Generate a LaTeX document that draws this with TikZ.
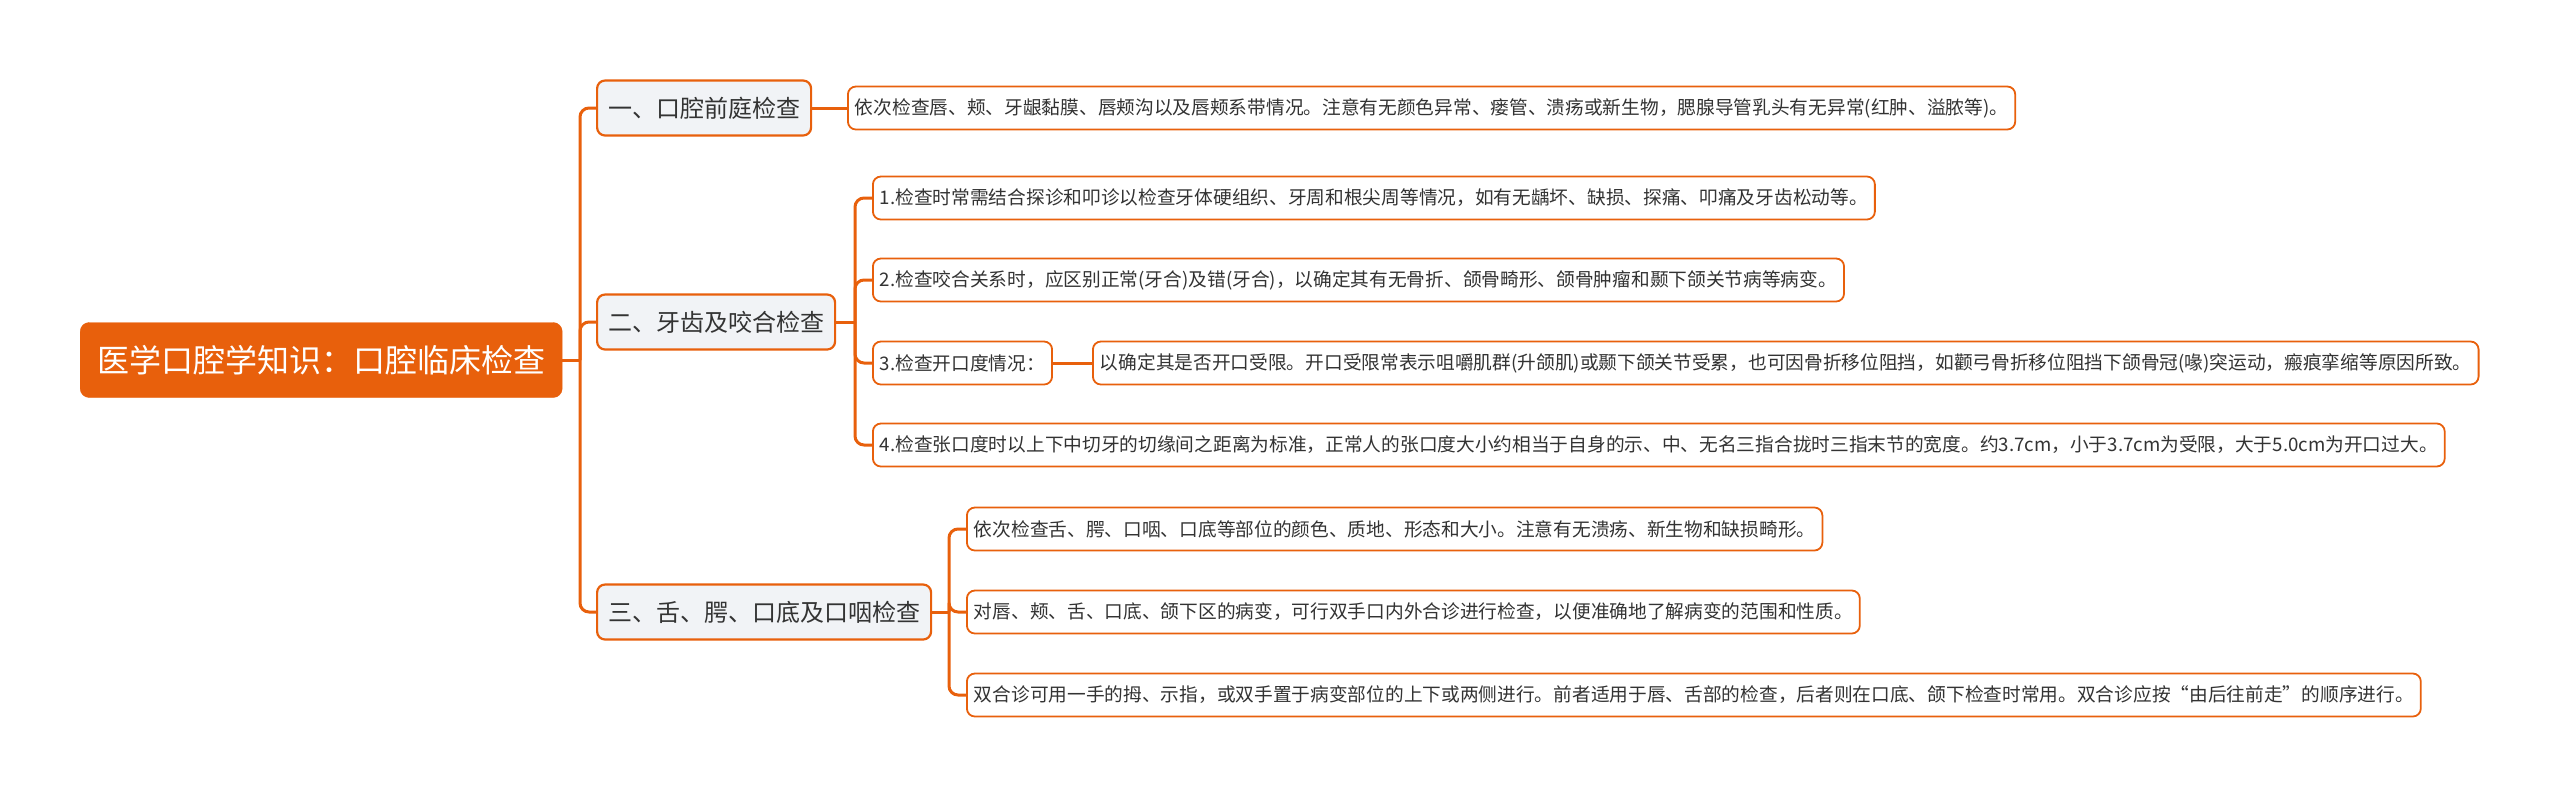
\documentclass[tikz,border=0pt]{standalone}
\usepackage{fontspec}
\newfontfamily\cjk{Noto Sans CJK SC}
\usepackage{tikz}
\usetikzlibrary{positioning}
\definecolor{mmorange}{HTML}{E8600C}
\definecolor{mmgray}{HTML}{F1F3F6}
\definecolor{mmtext}{HTML}{333333}

\begin{document}
\begin{tikzpicture}[x=1pt, y=-1pt, font=\cjk,
  rootbox/.style={fill=mmorange, draw=mmorange, rounded corners=9pt, text=white,
    font=\cjk\fontsize{32}{36}\selectfont, inner xsep=17pt, minimum height=75pt, anchor=west},
  topicbox/.style={fill=mmgray, draw=mmorange, line width=2.2pt, rounded corners=8pt, text=mmtext,
    font=\cjk\fontsize{24}{28}\selectfont, inner xsep=11pt, minimum height=55pt, anchor=west},
  leafbox/.style={fill=white, draw=mmorange, line width=1.8pt, rounded corners=8pt, text=mmtext,
    font=\cjk\fontsize{18.7}{22}\selectfont, inner xsep=7pt, minimum height=43pt, anchor=west},
  link/.style={draw=mmorange, line width=3pt, rounded corners=9pt}]

  \useasboundingbox (0,0) rectangle (2560,796);

  % ── Root ──────────────────────────────────────────────────────────────
  \node[rootbox] (root) at (80,360) {医学口腔学知识：口腔临床检查};

  % ── Main topics ───────────────────────────────────────────────────────
  \node[topicbox] (vest) at (596,108) {一、口腔前庭检查};
  \node[topicbox] (teeth) at (596,322) {二、牙齿及咬合检查};
  \node[topicbox] (tongue) at (596,612) {三、舌、腭、口底及口咽检查};

  % ── Leaves: vestibule ─────────────────────────────────────────────────
  \node[leafbox] (vest1) at (847,108)
    {依次检查唇、颊、牙龈黏膜、唇颊沟以及唇颊系带情况。注意有无颜色异常、瘘管、溃疡或新生物，腮腺导管乳头有无异常(红肿、溢脓等)。};

  % ── Leaves: teeth and occlusion ───────────────────────────────────────
  \node[leafbox] (teeth1) at (872,198)
    {1.检查时常需结合探诊和叩诊以检查牙体硬组织、牙周和根尖周等情况，如有无龋坏、缺损、探痛、叩痛及牙齿松动等。};
  \node[leafbox] (teeth2) at (872,280)
    {2.检查咬合关系时，应区别正常(牙合)及错(牙合)，以确定其有无骨折、颌骨畸形、颌骨肿瘤和颞下颌关节病等病变。};
  \node[leafbox] (teeth3) at (872,363) {3.检查开口度情况：};
  \node[leafbox] (teeth3a) at (1092,363)
    {以确定其是否开口受限。开口受限常表示咀嚼肌群(升颌肌)或颞下颌关节受累，也可因骨折移位阻挡，如颧弓骨折移位阻挡下颌骨冠(喙)突运动，瘢痕挛缩等原因所致。};
  \node[leafbox] (teeth4) at (872,445)
    {4.检查张口度时以上下中切牙的切缘间之距离为标准，正常人的张口度大小约相当于自身的示、中、无名三指合拢时三指末节的宽度。约3.7cm，小于3.7cm为受限，大于5.0cm为开口过大。};

  % ── Leaves: tongue, palate, floor ─────────────────────────────────────
  \node[leafbox] (tongue1) at (966,529)
    {依次检查舌、腭、口咽、口底等部位的颜色、质地、形态和大小。注意有无溃疡、新生物和缺损畸形。};
  \node[leafbox] (tongue2) at (966,612)
    {对唇、颊、舌、口底、颌下区的病变，可行双手口内外合诊进行检查，以便准确地了解病变的范围和性质。};
  \node[leafbox] (tongue3) at (966,695)
    {双合诊可用一手的拇、示指，或双手置于病变部位的上下或两侧进行。前者适用于唇、舌部的检查，后者则在口底、颌下检查时常用。双合诊应按“由后往前走”的顺序进行。};

  % ── Connectors ────────────────────────────────────────────────────────
  \coordinate (hub) at (580,360);
  \coordinate (hubT) at (855,322);
  \coordinate (hubL) at (949,612);

  \draw[link] (root.east) -- (hub);
  \draw[link] (hub) |- (vest.west);
  \draw[link] (hub) |- (teeth.west);
  \draw[link] (hub) |- (tongue.west);

  \draw[link] (vest.east) -- (vest1.west);

  \draw[link] (teeth.east) -- (hubT);
  \foreach \leaf in {teeth1,teeth2,teeth3,teeth4}
    \draw[link] (hubT) |- (\leaf.west);
  \draw[link] (teeth3.east) -- (teeth3a.west);

  \draw[link] (tongue.east) -- (hubL);
  \foreach \leaf in {tongue1,tongue2,tongue3}
    \draw[link] (hubL) |- (\leaf.west);

\end{tikzpicture}
\end{document}
